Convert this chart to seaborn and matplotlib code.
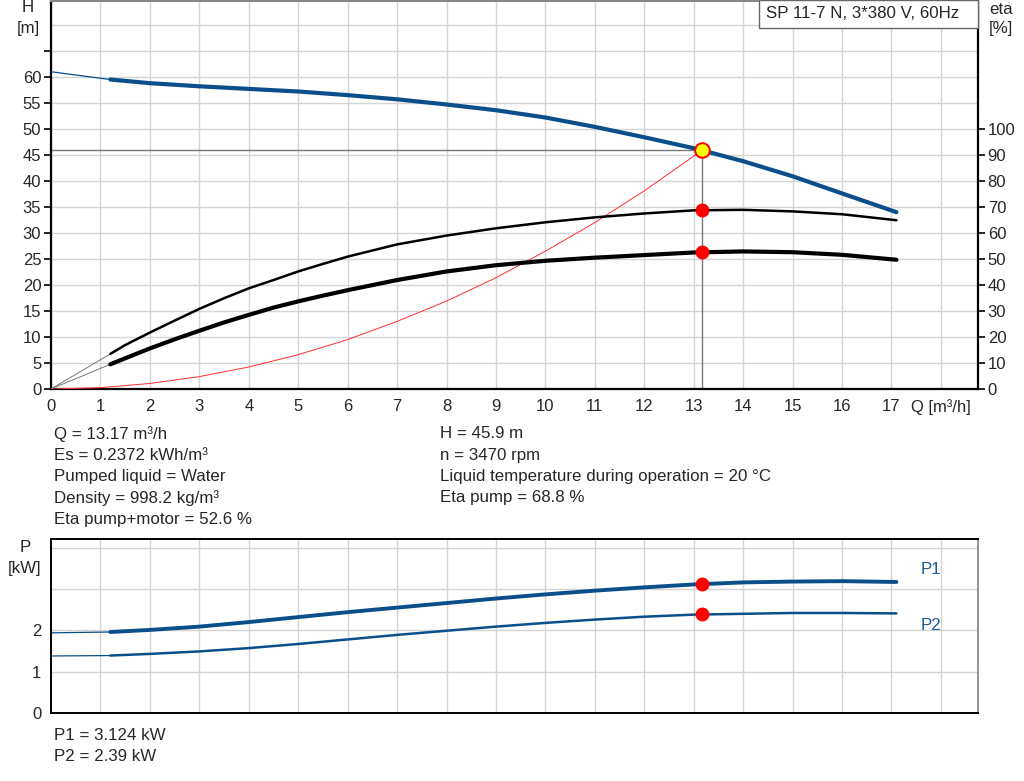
import numpy as np
import pandas as pd
import matplotlib
matplotlib.use("Agg")
import matplotlib.pyplot as plt
from matplotlib.patches import Rectangle
import seaborn as sns

# pump curves
q_eta = [1.2, 1.5, 2, 2.5, 3, 3.5, 4, 4.5, 5, 5.5, 6, 7, 8, 9, 10, 11, 12, 13, 14, 15, 16, 17.1]
eta_pump = [13.5, 16.9, 21.7, 26.3, 30.8, 34.9, 38.7, 41.9, 45.2, 48.1, 50.9, 55.6, 59.0, 61.8,
            64.1, 66.0, 67.5, 68.7, 68.9, 68.3, 67.2, 64.9]
eta_total = [9.5, 11.8, 15.6, 19.1, 22.4, 25.6, 28.5, 31.3, 33.7, 35.9, 38.0, 41.9, 45.2, 47.6,
             49.3, 50.5, 51.5, 52.5, 52.9, 52.6, 51.6, 49.7]

q = [1.2, 2, 3, 4, 5, 6, 7, 8, 9, 10, 11, 12, 13, 14, 15, 16, 17.1]
head = [59.5, 58.8, 58.2, 57.7, 57.2, 56.5, 55.7, 54.7, 53.6, 52.2, 50.4, 48.4, 46.3, 43.8, 40.9, 37.6, 34.0]
p1 = [1.96, 2.01, 2.09, 2.20, 2.32, 2.44, 2.55, 2.66, 2.77, 2.87, 2.96, 3.04, 3.11, 3.16, 3.18, 3.19, 3.17]
p2 = [1.39, 1.43, 1.49, 1.57, 1.67, 1.78, 1.89, 1.99, 2.09, 2.18, 2.26, 2.33, 2.38, 2.40, 2.42, 2.42, 2.41]

# thin extensions towards Q = 0
q_ext = [0, 1.2]
head_ext = [61.0, 59.5]
eta_pump_ext = [0, 13.5]
eta_total_ext = [0, 9.5]
p1_ext = [1.94, 1.96]
p2_ext = [1.38, 1.39]

# system curve
q_sys = [0, 1, 2, 3, 4, 5, 6, 7, 8, 9, 10, 11, 12, 13.17]
h_sys = [0, 0.26, 1.06, 2.38, 4.23, 6.6, 9.5, 13.0, 16.9, 21.4, 26.5, 32.0, 38.1, 45.9]

# duty point
q_duty = 13.17
h_duty = 45.9
eta_pump_duty = 68.8
eta_total_duty = 52.6
p1_duty = 3.124
p2_duty = 2.39

info_left = ["Q = 13.17 m³/h", "Es = 0.2372 kWh/m³", "Pumped liquid = Water",
             "Density = 998.2 kg/m³", "Eta pump+motor = 52.6 %"]
info_right = ["H = 45.9 m", "n = 3470 rpm",
              "Liquid temperature during operation = 20 °C", "Eta pump = 68.8 %"]
info_power = ["P1 = 3.124 kW", "P2 = 2.39 kW"]
title = "SP 11-7 N, 3*380 V, 60Hz"

sns.set_theme(style="white")
plt.rcParams['font.family'] = ['Liberation Sans', 'DejaVu Sans']

BLUE = '#0b4f8a'
GRID = '#d4d4d4'
FS = 12
FT = 12.2

W, H = 1024, 781
fig = plt.figure(figsize=(W / 100, H / 100), dpi=100)
ax = fig.add_axes([51 / W, 1 - 389 / H, 927 / W, 388 / H])
axe = ax.twinx()
axp = fig.add_axes([51 / W, 1 - 713 / H, 927 / W, 174 / H])

df_main = pd.DataFrame({'q': q, 'head': head, 'p1': p1, 'p2': p2})
df_eta = pd.DataFrame({'q': q_eta, 'eta_pump': eta_pump, 'eta_total': eta_total})
df_ext = pd.DataFrame({'q': q_ext, 'head': head_ext, 'eta_pump': eta_pump_ext,
                       'eta_total': eta_total_ext, 'p1': p1_ext, 'p2': p2_ext})
df_sys = pd.DataFrame({'q': q_sys, 'h': h_sys})

# ---- top chart: head + efficiency
xmax = 18.75

# duty point guide lines
ax.plot([0, q_duty], [h_duty, h_duty], color='#7a7a7a', lw=1.0, zorder=2)
ax.plot([q_duty, q_duty], [0, h_duty], color='#7a7a7a', lw=1.0, zorder=2)

sns.lineplot(data=df_sys, x='q', y='h', ax=ax, color='#ff3030', lw=0.7, zorder=3)
sns.lineplot(data=df_ext, x='q', y='head', ax=ax, color=BLUE, lw=0.9, zorder=4)
sns.lineplot(data=df_main, x='q', y='head', ax=ax, color=BLUE, lw=3.0, zorder=4)

sns.lineplot(data=df_ext, x='q', y='eta_pump', ax=axe, color='#777777', lw=0.7)
sns.lineplot(data=df_ext, x='q', y='eta_total', ax=axe, color='#777777', lw=0.7)
sns.lineplot(data=df_eta, x='q', y='eta_pump', ax=axe, color='black', lw=1.8)
sns.lineplot(data=df_eta, x='q', y='eta_total', ax=axe, color='black', lw=3.0)
axe.plot([q_duty], [eta_pump_duty], 'o', color='#ff0000', ms=9, zorder=6)
axe.plot([q_duty], [eta_total_duty], 'o', color='#ff0000', ms=9, zorder=6)
ax.plot([q_duty], [h_duty], 'o', mfc='#ffff00', mec='#ff0000', mew=1.4, ms=10.5, zorder=7)

ax.set_xlim(0, xmax)
ax.set_ylim(0, 74.6)
axe.set_ylim(0, 149.2)
ax.set_xticks(range(0, 19))
ax.set_xticklabels([str(i) for i in range(18)] + ['Q [m³/h]'], fontsize=FS)
ax.set_yticks(range(0, 70, 5))
ax.set_yticklabels([str(v) if v <= 60 else '' for v in range(0, 70, 5)], fontsize=FS)
ax.set_yticks([70], minor=True)
ax.grid(True, which='both', color=GRID, lw=1)
ax.tick_params(which='minor', length=0)
ax.tick_params(axis='both', which='major', length=5, width=1.2, color='black', pad=2)
axe.set_yticks(range(0, 101, 10))
axe.set_yticklabels([str(v) for v in range(0, 101, 10)], fontsize=FS)
axe.tick_params(axis='y', length=5, width=1.2, color='black', pad=2)
axe.grid(False)
for a in (ax, axe):
    a.set_xlabel('')
    a.set_ylabel('')

ax.spines['top'].set_color('#888888')
ax.spines['top'].set_linewidth(1.5)
axe.spines['top'].set_visible(False)
for s in ('left', 'bottom'):
    ax.spines[s].set_color('black')
    ax.spines[s].set_linewidth(1.6)
axe.spines['right'].set_color('black')
axe.spines['right'].set_linewidth(1.6)
axe.spines['left'].set_visible(False)
axe.spines['bottom'].set_visible(False)

# model box in the top-right corner
fig.patches.append(Rectangle((759 / W, 1 - 28 / H), 219 / W, 28 / H, transform=fig.transFigure,
                             fc='white', ec='#666666', lw=1, zorder=10))
fig.text(766 / W, 1 - 14 / H, title, ha='left', va='center', fontsize=FT, zorder=11)

fig.text(28 / W, 1 - 8 / H, 'H', ha='center', va='center', fontsize=FT)
fig.text(28 / W, 1 - 28 / H, '[m]', ha='center', va='center', fontsize=FT)
fig.text(1001 / W, 1 - 10 / H, 'eta', ha='center', va='center', fontsize=FT)
fig.text(1001 / W, 1 - 29 / H, '[%]', ha='center', va='center', fontsize=FT)

# info text block
for i, t in enumerate(info_left):
    fig.text(54 / W, 1 - (434 + 21.3 * i) / H, t, ha='left', va='center', fontsize=FT)
for i, t in enumerate(info_right):
    fig.text(440 / W, 1 - (434 + 21.3 * i) / H, t, ha='left', va='center', fontsize=FT)

# ---- bottom chart: power
sns.lineplot(data=df_ext, x='q', y='p1', ax=axp, color=BLUE, lw=0.9)
sns.lineplot(data=df_ext, x='q', y='p2', ax=axp, color=BLUE, lw=0.9)
sns.lineplot(data=df_main, x='q', y='p1', ax=axp, color=BLUE, lw=2.8)
sns.lineplot(data=df_main, x='q', y='p2', ax=axp, color=BLUE, lw=1.8)
axp.plot([q_duty], [p1_duty], 'o', color='#ff0000', ms=9, zorder=6)
axp.plot([q_duty], [p2_duty], 'o', color='#ff0000', ms=9, zorder=6)

axp.set_xlim(0, xmax)
axp.set_ylim(0, 4.21)
axp.set_xticks(range(0, 19))
axp.set_xticklabels([])
axp.set_yticks(range(0, 5))
axp.set_yticklabels(['0', '1', '2', '', ''], fontsize=FS)
axp.grid(True, color=GRID, lw=1)
axp.tick_params(axis='x', length=0)
axp.tick_params(axis='y', length=5, width=1.2, color='black', pad=2)
axp.set_xlabel('')
axp.set_ylabel('')
for s in ('left', 'bottom', 'top'):
    axp.spines[s].set_color('black')
    axp.spines[s].set_linewidth(1.4)
axp.spines['right'].set_color('#888888')

fig.text(921 / W, 1 - 570 / H, 'P1', ha='left', va='center', fontsize=FT, color='#1a5a9a')
fig.text(921 / W, 1 - 626 / H, 'P2', ha='left', va='center', fontsize=FT, color='#1a5a9a')
fig.text(25 / W, 1 - 548 / H, 'P', ha='center', va='center', fontsize=FT)
fig.text(25 / W, 1 - 569 / H, '[kW]', ha='center', va='center', fontsize=FT)

for i, t in enumerate(info_power):
    fig.text(54 / W, 1 - (735 + 21.5 * i) / H, t, ha='left', va='center', fontsize=FT)

fig.savefig('out.png', dpi=100, facecolor='white')
